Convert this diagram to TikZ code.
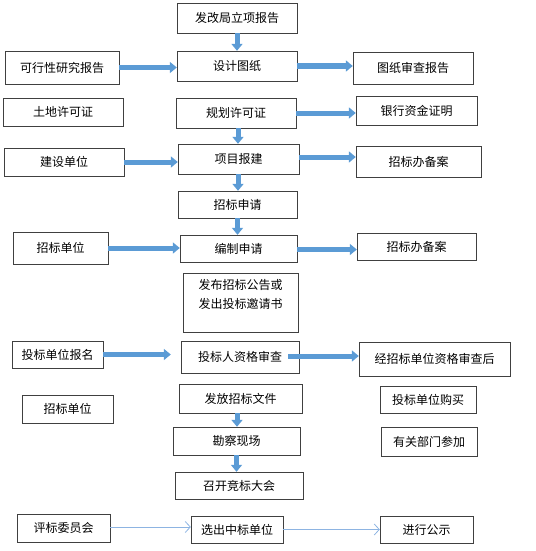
\documentclass[tikz,border=0pt]{standalone}
\usepackage{fontspec}
\setmainfont{Noto Sans CJK SC}
\usepackage{tikz}
\usetikzlibrary{arrows.meta,positioning}
\definecolor{boxline}{HTML}{404040}
\definecolor{flowblue}{HTML}{5B9BD5}
\definecolor{thinblue}{HTML}{8DB4E2}

\begin{document}
\begin{tikzpicture}[x=1pt,y=-1pt,
  every node/.style={draw=boxline,fill=white,thin,inner sep=0pt,font=\fontsize{12}{14}\selectfont},
  flow/.style={draw=flowblue,line width=5pt,-{Triangle[width=11pt,length=7pt]}},
  thinflow/.style={draw=thinblue,line width=0.8pt,-{Straight Barb[length=5pt,width=11pt]}}]
	\useasboundingbox (0,0) rectangle (535,551);
	% main column
	\node[minimum width=120,minimum height=30] (fgj) at (237,18) {发改局立项报告};
	\node[minimum width=120,minimum height=30] (design) at (237,66) {设计图纸};
	\node[minimum width=120,minimum height=30] (plan) at (236,113) {规划许可证};
	\node[minimum width=121,minimum height=30] (project) at (238.5,159) {项目报建};
	\node[minimum width=119,minimum height=27] (apply) at (237.5,204.5) {招标申请};
	\node[minimum width=117,minimum height=27] (compile) at (238.5,248.5) {编制申请};
	\node[minimum width=115,minimum height=59] (publish) at (240.5,302.5) {\parbox[c][59pt][t]{113pt}{\centering\vspace{6pt}\baselineskip=19pt 发布招标公告或\\发出投标邀请书}};
	\node[minimum width=118,minimum height=32] (qualify) at (240,357) {投标人资格审查};
	\node[minimum width=123,minimum height=29] (issue) at (240.5,398.5) {发放招标文件};
	\node[minimum width=127,minimum height=28] (survey) at (236.5,441) {勘察现场};
	\node[minimum width=128,minimum height=27] (meeting) at (239,485.5) {召开竞标大会};
	\node[minimum width=92,minimum height=27] (select) at (237,529.5) {选出中标单位};
	% left column
	\node[minimum width=114,minimum height=33] (feasib) at (62,67.5) {可行性研究报告};
	\node[minimum width=120,minimum height=28] (land) at (63,112) {土地许可证};
	\node[minimum width=120,minimum height=28] (build) at (64,162) {建设单位};
	\node[minimum width=95,minimum height=32] (bidder1) at (60.5,248) {招标单位};
	\node[minimum width=91,minimum height=27] (signup) at (57.5,354.5) {投标单位报名};
	\node[minimum width=91,minimum height=28] (bidder2) at (67.5,409) {招标单位};
	\node[minimum width=93,minimum height=28] (panel) at (63.5,528) {评标委员会};
	% right column
	\node[minimum width=120,minimum height=32] (review) at (413,68) {图纸审查报告};
	\node[minimum width=121,minimum height=29] (bank) at (416.5,110.5) {银行资金证明};
	\node[minimum width=125,minimum height=31] (filing1) at (418.5,161.5) {招标办备案};
	\node[minimum width=119,minimum height=27] (filing2) at (416.5,246.5) {招标办备案};
	\node[minimum width=151,minimum height=34] (passed) at (434.5,359) {经招标单位资格审查后};
	\node[minimum width=96,minimum height=27] (buy) at (428,399.5) {投标单位购买};
	\node[minimum width=96,minimum height=29] (attend) at (429,441.5) {有关部门参加};
	\node[minimum width=93,minimum height=27] (notice) at (426.5,529.5) {进行公示};
	% downward flow
	\draw[flow] (fgj.south) -- (fgj.south |- design.north);
	\draw[flow] ([xshift=2pt]plan.south) -- ([xshift=2pt]plan.south |- project.north);
	\draw[flow] ([xshift=-0.5pt]project.south) -- ([xshift=-0.5pt]project.south |- apply.north);
	\draw[flow] (apply.south) -- (apply.south |- compile.north);
	\draw[flow] ([xshift=-3.5pt]issue.south) -- ([xshift=-3.5pt]issue.south |- survey.north);
	\draw[flow] (survey.south) -- (survey.south |- meeting.north);
	% sideways flow
	\draw[flow] (feasib.east) -- (feasib.east -| design.west);
	\draw[flow] (design.east) -- (design.east -| review.west);
	\draw[flow] (plan.east) -- (plan.east -| bank.west);
	\draw[flow] (build.east) -- (build.east -| project.west);
	\draw[flow] ([yshift=2pt]project.east) -- ([yshift=2pt]project.east -| filing1.west);
	\draw[flow] (bidder1.east) -- (bidder1.east -| compile.west);
	\draw[flow] ([yshift=-1pt]compile.east) -- ([yshift=-1pt]compile.east -| filing2.west);
	\draw[flow,shorten >=10pt] (signup.east) -- (signup.east -| qualify.west);
	\draw[flow,shorten <=-11pt] ([yshift=1pt]qualify.east) -- ([yshift=1pt]qualify.east -| passed.west);
	\draw[thinflow] ([yshift=1pt]panel.east) -- ([yshift=1pt]panel.east -| select.west);
	\draw[thinflow] (select.east) -- (select.east -| notice.west);
\end{tikzpicture}
\end{document}
